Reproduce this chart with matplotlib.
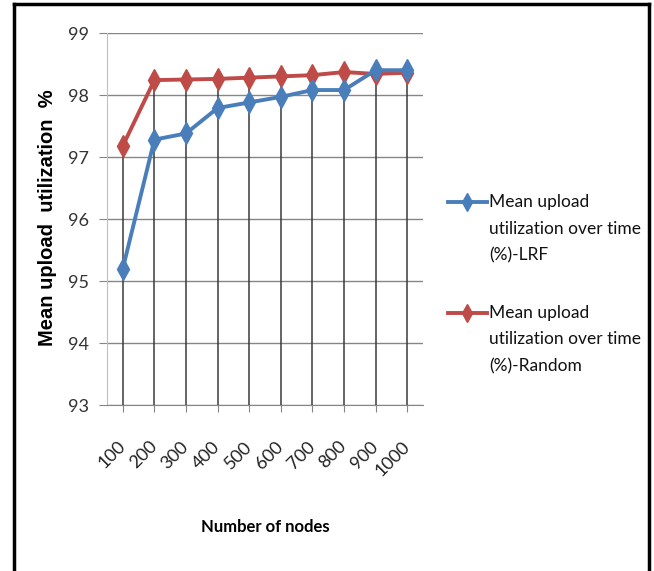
import numpy as np
import matplotlib
matplotlib.use('Agg')
import matplotlib.pyplot as plt
from matplotlib import font_manager
from matplotlib.lines import Line2D

# data
nodes = ['100', '200', '300', '400', '500', '600', '700', '800', '900', '1000']
lrf = [95.2, 97.28, 97.38, 97.79, 97.88, 97.97, 98.08, 98.08, 98.4, 98.4]
rnd = [97.18, 98.24, 98.25, 98.26, 98.28, 98.30, 98.32, 98.37, 98.34, 98.36]
series_names = ['Mean upload\nutilization over time\n(%)-LRF',
                'Mean upload\nutilization over time\n(%)-Random']
yticks = [93, 94, 95, 96, 97, 98, 99]

blue = '#4A7EBB'
red = '#BE4B48'

# narrow font if there is one, otherwise Lato
names = set(f.name for f in font_manager.fontManager.ttflist)
if 'Liberation Sans Narrow' in names:
    nfont, tick_fs, leg_fs, xl_fs = 'Liberation Sans Narrow', 14, 14.5, 13
else:
    nfont, tick_fs, leg_fs, xl_fs = 'Lato', 13, 12.5, 12

W, H = 654, 571
fig = plt.figure(figsize=(W / 100, H / 100), dpi=100)
ax = fig.add_axes([107 / W, 1 - 405 / H, (423 - 107) / W, (405 - 33) / H])

x = np.arange(len(nodes))

# drop lines from the highest point down to the axis
top = np.maximum(lrf, rnd)
ax.vlines(x, yticks[0], top, color='#3a3a3a', lw=1.1, zorder=2)

ax.plot(x, lrf, color=blue, lw=2.8, marker='d', ms=11, zorder=4)
ax.plot(x, rnd, color=red, lw=2.8, marker='d', ms=11, zorder=3)

ax.set_xlim(-0.5, len(nodes) - 0.5)
ax.set_ylim(yticks[0], yticks[-1])
ax.set_yticks(yticks)
ax.set_xticks(x)
ax.set_xticklabels(nodes)
ax.grid(axis='y', color='#868686', lw=1)
ax.set_axisbelow(True)

for s in ['top', 'right']:
    ax.spines[s].set_visible(False)
ax.spines['left'].set_color('#c0c0c0')
ax.spines['bottom'].set_color('#868686')

ax.tick_params(axis='y', length=6, color='#868686', pad=7, labelsize=tick_fs, labelcolor='#333333')
ax.tick_params(axis='x', length=5, color='#868686', pad=23, labelsize=tick_fs, labelcolor='#222222')
for t in ax.get_yticklabels() + ax.get_xticklabels():
    t.set_fontfamily(nfont)
plt.setp(ax.get_xticklabels(), rotation=45, ha='right', va='center', rotation_mode='anchor')

ax.set_xlabel('Number of nodes', fontfamily=nfont, fontsize=xl_fs, fontweight='bold', va='center')
ax.xaxis.set_label_coords(0.5, (1 - 527 / H - (1 - 405 / H)) / ((405 - 33) / H))
ax.set_ylabel('Mean upload  utilization  %', fontfamily='Liberation Sans', fontsize=14.5,
              fontweight='bold', va='center')
ax.yaxis.set_label_coords((48 - 107) / (423 - 107), (405 - 218) / (405 - 33))

# legend drawn by hand so the marker sits on the first line
leg_y = [202, 313]
for name, col, y0 in zip(series_names, [blue, red], leg_y):
    fig.add_artist(Line2D([448 / W, 487 / W], [1 - y0 / H, 1 - y0 / H], color=col, lw=2.8))
    fig.add_artist(Line2D([467.5 / W], [1 - y0 / H], color=col, marker='d', ms=9))
    for k, line in enumerate(name.split('\n')):
        fig.text(489 / W, 1 - (y0 + 26.5 * k) / H, line, fontfamily=nfont, fontsize=leg_fs,
                 va='center', ha='left', color='#111111')

# outer frame
fig.add_artist(Line2D([14 / W, 14 / W], [0, 1 - 4 / H], color='black', lw=2.5))
fig.add_artist(Line2D([14 / W, 649 / W], [1 - 4 / H, 1 - 4 / H], color='black', lw=2.5))
fig.add_artist(Line2D([649 / W, 649 / W], [0, 1 - 4 / H], color='black', lw=2.5))

fig.savefig('out.png', dpi=100)
